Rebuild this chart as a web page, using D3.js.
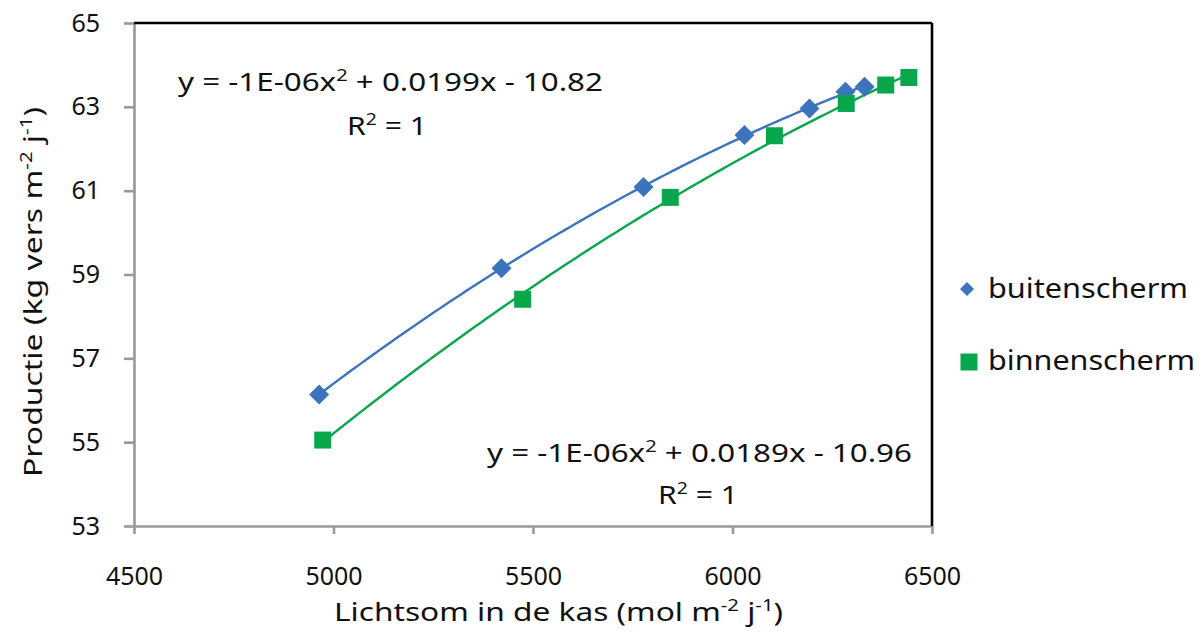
<!DOCTYPE html>
<html><head><meta charset="utf-8">
<script src="https://cdn.jsdelivr.net/npm/d3@7"></script>
<style>
body{margin:0;background:#fff}
text{font-family:"Noto Sans","Open Sans",sans-serif;fill:#111}
</style>
</head><body>
<svg id="c" width="1203" height="636"></svg>
<script>
// ---- data ----
const seriesNames = ["buitenscherm", "binnenscherm"];
const buitenX = [4964, 5421, 5777, 6030, 6193, 6283, 6331];
const buitenY = [56.14, 59.15, 61.09, 62.33, 62.96, 63.36, 63.48];
const binnenX = [4973, 5474, 5844, 6105, 6285, 6384, 6442];
const binnenY = [55.05, 58.41, 60.84, 62.31, 63.08, 63.52, 63.70];
const xTicks = [4500, 5000, 5500, 6000, 6500];
const yTicks = [53, 55, 57, 59, 61, 63, 65];
const eqTexts = [["y = -1E-06x", "2", " + 0.0199x - 10.82"], ["y = -1E-06x", "2", " + 0.0189x - 10.96"]];
const colors = ["#3b73bd", "#08a74c"];

const svg = d3.select("#c");
const x = d3.scaleLinear().domain([4500, 6500]).range([134, 932]);
const y = d3.scaleLinear().domain([53, 65]).range([526, 23]);

// axes
const gy = svg.append("g").attr("transform", "translate(134,0)")
  .call(d3.axisLeft(y).tickValues(yTicks).tickSize(10).tickSizeOuter(0).tickPadding(24).tickFormat(d3.format("d")));
const gx = svg.append("g").attr("transform", "translate(0,526)")
  .call(d3.axisBottom(x).tickValues(xTicks).tickSize(8).tickSizeOuter(0).tickPadding(33).tickFormat(d3.format("d")));
[gx, gy].forEach(g => {
  g.select(".domain").attr("stroke", "#999").attr("stroke-width", 2.6);
  g.selectAll(".tick line").attr("stroke", "#999").attr("stroke-width", 2.6);
  g.selectAll(".tick text").attr("font-size", 25).attr("fill", "#111")
    .style("font-family", '"Noto Sans","Open Sans",sans-serif');
});
// top & right border
svg.append("line").attr("x1", x(4500)).attr("x2", x(6500)).attr("y1", y(65)).attr("y2", y(65))
  .attr("stroke", "#000").attr("stroke-width", 2.6);
svg.append("line").attr("x1", x(6500)).attr("x2", x(6500)).attr("y1", y(65)).attr("y2", y(53))
  .attr("stroke", "#000").attr("stroke-width", 2.6);

// quadratic least-squares trendline
function fitQuad(xs, ys) {
  const m = d3.mean(xs);
  let S = Array(5).fill(0), T = Array(3).fill(0);
  xs.forEach((xv, i) => {
    const u = xv - m;
    for (let k = 0; k < 5; k++) S[k] += Math.pow(u, k);
    for (let k = 0; k < 3; k++) T[k] += ys[i] * Math.pow(u, k);
  });
  const A = [[S[0], S[1], S[2], T[0]], [S[1], S[2], S[3], T[1]], [S[2], S[3], S[4], T[2]]];
  for (let i = 0; i < 3; i++) {
    for (let j = i + 1; j < 3; j++) {
      const f = A[j][i] / A[i][i];
      for (let k = i; k < 4; k++) A[j][k] -= f * A[i][k];
    }
  }
  const c = [0, 0, 0];
  for (let i = 2; i >= 0; i--) {
    let s = A[i][3];
    for (let k = i + 1; k < 3; k++) s -= A[i][k] * c[k];
    c[i] = s / A[i][i];
  }
  return xv => { const u = xv - m; return c[0] + c[1] * u + c[2] * u * u; };
}

const series = [
  {xs: buitenX, ys: buitenY, color: colors[0], shape: "diamond"},
  {xs: binnenX, ys: binnenY, color: colors[1], shape: "square"}
];
const line = d3.line().x(d => x(d[0])).y(d => y(d[1]));
series.forEach(s => {
  const f = fitQuad(s.xs, s.ys);
  const x0 = d3.min(s.xs), x1 = d3.max(s.xs);
  const pts = d3.range(0, 101).map(i => { const xv = x0 + (x1 - x0) * i / 100; return [xv, f(xv)]; });
  svg.append("path").attr("d", line(pts)).attr("fill", "none").attr("stroke", s.color).attr("stroke-width", 2.4);
});
function marker(g, shape, cx, cy, size, color) {
  if (shape === "diamond") {
    const h = size / 2;
    g.append("path").attr("d", `M${cx},${cy - h}L${cx + h},${cy}L${cx},${cy + h}L${cx - h},${cy}Z`).attr("fill", color);
  } else {
    g.append("rect").attr("x", cx - size / 2).attr("y", cy - size / 2).attr("width", size).attr("height", size).attr("fill", color);
  }
}
series.forEach(s => {
  const g = svg.append("g");
  s.xs.forEach((xv, i) => marker(g, s.shape, x(xv), y(s.ys[i]), s.shape === "diamond" ? 20 : 17, s.color));
});

// equations
function eq(parts, xl, base, width) {
  const t = svg.append("text").attr("x", xl).attr("y", base).attr("font-size", 25)
    .attr("textLength", width).attr("lengthAdjust", "spacingAndGlyphs");
  t.append("tspan").text(parts[0]);
  t.append("tspan").attr("dy", -10).attr("font-size", 16).text(parts[1]);
  t.append("tspan").attr("dy", 10).text(parts[2]);
}
function r2(xl, base, width) {
  const t = svg.append("text").attr("x", xl).attr("y", base).attr("font-size", 25)
    .attr("textLength", width).attr("lengthAdjust", "spacingAndGlyphs");
  t.append("tspan").text("R");
  t.append("tspan").attr("dy", -10).attr("font-size", 16).text("2");
  t.append("tspan").attr("dy", 10).text(" = 1");
}
eq(eqTexts[0], 178, 91, 425);
r2(347, 135, 80);
eq(eqTexts[1], 487, 462, 425);
r2(658, 504, 80);

// axis titles
const xt = svg.append("text").attr("x", 334).attr("y", 621).attr("font-size", 25)
  .attr("textLength", 449).attr("lengthAdjust", "spacingAndGlyphs");
xt.append("tspan").text("Lichtsom in de kas (mol m");
xt.append("tspan").attr("dy", -10).attr("font-size", 16).text("-2");
xt.append("tspan").attr("dy", 10).text(" j");
xt.append("tspan").attr("dy", -10).attr("font-size", 16).text("-1");
xt.append("tspan").attr("dy", 10).text(")");

const yt = svg.append("text").attr("transform", "translate(42,477) rotate(-90)").attr("font-size", 25)
  .attr("textLength", 370).attr("lengthAdjust", "spacingAndGlyphs");
yt.append("tspan").text("Productie (kg vers m");
yt.append("tspan").attr("dy", -10).attr("font-size", 16).text("-2");
yt.append("tspan").attr("dy", 10).text(" j");
yt.append("tspan").attr("dy", -10).attr("font-size", 16).text("-1");
yt.append("tspan").attr("dy", 10).text(")");

// legend
const lg = svg.append("g");
marker(lg, "diamond", 967, 289, 14, colors[0]);
marker(lg, "square", 969, 362, 17, colors[1]);
lg.append("text").attr("x", 988).attr("y", 298).attr("font-size", 27)
  .attr("textLength", 200).attr("lengthAdjust", "spacingAndGlyphs").text(seriesNames[0]);
lg.append("text").attr("x", 988).attr("y", 370).attr("font-size", 27)
  .attr("textLength", 207).attr("lengthAdjust", "spacingAndGlyphs").text(seriesNames[1]);
</script>
</body></html>
